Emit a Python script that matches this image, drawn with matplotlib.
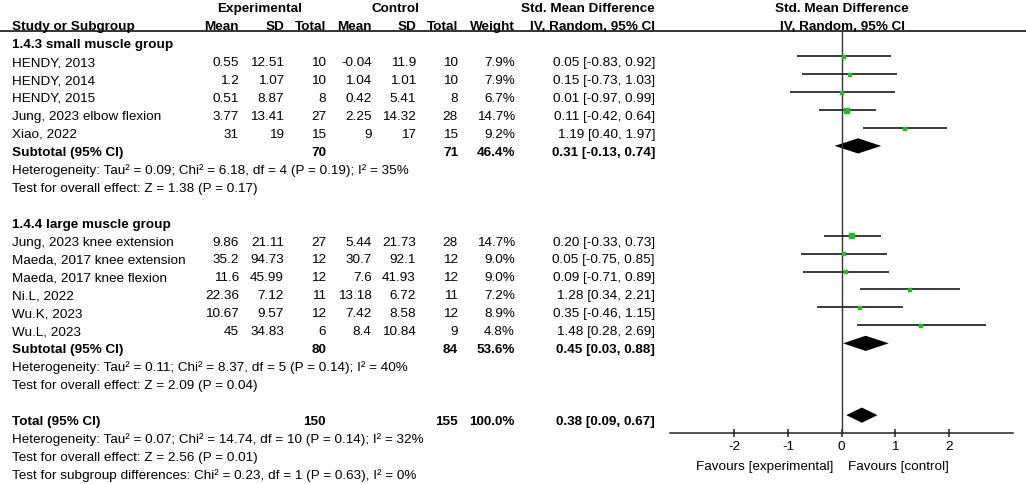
import matplotlib
matplotlib.use("Agg")
import matplotlib.pyplot as plt
import numpy as np

plt.rcParams['font.family'] = ['Liberation Sans', 'DejaVu Sans']

# ---------------- data ----------------
g1_label = "1.4.3 small muscle group"
g1_names = ["HENDY, 2013", "HENDY, 2014", "HENDY, 2015", "Jung, 2023 elbow flexion", "Xiao, 2022"]
g1_exp_mean = ["0.55", "1.2", "0.51", "3.77", "31"]
g1_exp_sd = ["12.51", "1.07", "8.87", "13.41", "19"]
g1_exp_n = [10, 10, 8, 27, 15]
g1_ctl_mean = ["-0.04", "1.04", "0.42", "2.25", "9"]
g1_ctl_sd = ["11.9", "1.01", "5.41", "14.32", "17"]
g1_ctl_n = [10, 10, 8, 28, 15]
g1_weight = [7.9, 7.9, 6.7, 14.7, 9.2]
g1_smd = [0.05, 0.15, 0.01, 0.11, 1.19]
g1_lo = [-0.83, -0.73, -0.97, -0.42, 0.40]
g1_hi = [0.92, 1.03, 0.99, 0.64, 1.97]
g1_sub = dict(exp_n=70, ctl_n=71, weight=46.4, smd=0.31, lo=-0.13, hi=0.74)
g1_het = "Heterogeneity: Tau² = 0.09; Chi² = 6.18, df = 4 (P = 0.19); I² = 35%"
g1_test = "Test for overall effect: Z = 1.38 (P = 0.17)"

g2_label = "1.4.4 large muscle group"
g2_names = ["Jung, 2023 knee extension", "Maeda, 2017 knee extension", "Maeda, 2017 knee flexion",
            "Ni.L, 2022", "Wu.K, 2023", "Wu.L, 2023"]
g2_exp_mean = ["9.86", "35.2", "11.6", "22.36", "10.67", "45"]
g2_exp_sd = ["21.11", "94.73", "45.99", "7.12", "9.57", "34.83"]
g2_exp_n = [27, 12, 12, 11, 12, 6]
g2_ctl_mean = ["5.44", "30.7", "7.6", "13.18", "7.42", "8.4"]
g2_ctl_sd = ["21.73", "92.1", "41.93", "6.72", "8.58", "10.84"]
g2_ctl_n = [28, 12, 12, 11, 12, 9]
g2_weight = [14.7, 9.0, 9.0, 7.2, 8.9, 4.8]
g2_smd = [0.20, 0.05, 0.09, 1.28, 0.35, 1.48]
g2_lo = [-0.33, -0.75, -0.71, 0.34, -0.46, 0.28]
g2_hi = [0.73, 0.85, 0.89, 2.21, 1.15, 2.69]
g2_sub = dict(exp_n=80, ctl_n=84, weight=53.6, smd=0.45, lo=0.03, hi=0.88)
g2_het = "Heterogeneity: Tau² = 0.11; Chi² = 8.37, df = 5 (P = 0.14); I² = 40%"
g2_test = "Test for overall effect: Z = 2.09 (P = 0.04)"

total = dict(exp_n=150, ctl_n=155, weight=100.0, smd=0.38, lo=0.09, hi=0.67)
total_het = "Heterogeneity: Tau² = 0.07; Chi² = 14.74, df = 10 (P = 0.14); I² = 32%"
total_test = "Test for overall effect: Z = 2.56 (P = 0.01)"
total_sub = "Test for subgroup differences: Chi² = 0.23, df = 1 (P = 0.63), I² = 0%"

xticks = [-2, -1, 0, 1, 2]
xticklabels = ["-2", "-1", "0", "1", "2"]
fav_left = "Favours [experimental]"
fav_right = "Favours [control]"

# ---------------- layout ----------------
W, H = 1026, 485
ROW0, DY = 43.5, 17.95
FS = 9.7
BASE = 4.6      # baseline offset from row centre (px)
MARK = -4.3     # forest mark offset from row centre (px)

def ry(k):
    return ROW0 + DY * k

COL = dict(name=12, em=239, esd=284, en=326, cm=371.7, csd=416, cn=458, w=515, ci=655)

fig = plt.figure(figsize=(W / 100, H / 100), dpi=100)
ax = fig.add_axes([0, 0, 1, 1])
ax.set_xlim(0, W)
ax.set_ylim(H, 0)
ax.axis('off')

FX0, FX1 = 670, 1013
axf = fig.add_axes([FX0 / W, 0, (FX1 - FX0) / W, 1])
axf.set_xlim(-3.2, 3.2)
axf.set_ylim(H, 0)
axf.patch.set_alpha(0)
for s in ['left', 'right', 'top']:
    axf.spines[s].set_visible(False)
AXIS_Y = 434
axf.spines['bottom'].set_position(('data', AXIS_Y))
axf.spines['bottom'].set_linewidth(1.1)
axf.spines['bottom'].set_color('#222222')
axf.set_yticks([])
axf.set_xticks(xticks)
axf.set_xticklabels(xticklabels)
axf.tick_params(axis='x', direction='inout', length=6, width=1.1, labelsize=FS, pad=2,
                color='#222222')

def txt(x, k, s, ha='right', bold=False):
    ax.text(x, ry(k) + BASE, s, ha=ha, va='baseline', fontsize=FS,
            fontweight='bold' if bold else 'normal', color='black')

# headers
hy1, hy2 = -2.0, -1.03
ax.text(260, ry(hy1) + BASE, "Experimental", ha='center', va='baseline', fontsize=FS, fontweight='bold')
ax.text(395, ry(hy1) + BASE, "Control", ha='center', va='baseline', fontsize=FS, fontweight='bold')
ax.text(COL['ci'], ry(hy1) + BASE, "Std. Mean Difference", ha='right', va='baseline', fontsize=FS, fontweight='bold')
ax.text(841.7, ry(hy1) + BASE, "Std. Mean Difference", ha='center', va='baseline', fontsize=FS, fontweight='bold')
ax.text(COL['name'], ry(hy2) + BASE, "Study or Subgroup", ha='left', va='baseline', fontsize=FS, fontweight='bold')
for key, lab in [('em', 'Mean'), ('esd', 'SD'), ('en', 'Total'), ('cm', 'Mean'),
                 ('csd', 'SD'), ('cn', 'Total'), ('w', 'Weight'), ('ci', 'IV, Random, 95% CI')]:
    ax.text(COL[key], ry(hy2) + BASE, lab, ha='right', va='baseline', fontsize=FS, fontweight='bold')
ax.text(843, ry(hy2) + BASE, "IV, Random, 95% CI", ha='center', va='baseline', fontsize=FS, fontweight='bold')
HLINE_Y = 31.7
ax.plot([0, W], [HLINE_Y, HLINE_Y], color='#333333', lw=1.4, solid_capstyle='butt')

# zero line
axf.plot([0, 0], [HLINE_Y, AXIS_Y], color='#333333', lw=1.0)

def ci_str(e, l, h):
    return f"{e:.2f} [{l:.2f}, {h:.2f}]"

def draw_diamond(k, d):
    y = ry(k) + MARK
    h = 7.6
    axf.fill([d['lo'], d['smd'], d['hi'], d['smd']], [y, y - h, y, y + h],
             color='black', lw=0)

def draw_group(k0, label, names, em, esd, en, cm, csd, cn, w, smd, lo, hi, sub, het, test):
    txt(COL['name'], k0, label, ha='left', bold=True)
    for i in range(len(names)):
        k = k0 + 1 + i
        txt(COL['name'], k, names[i], ha='left')
        txt(COL['em'], k, em[i])
        txt(COL['esd'], k, esd[i])
        txt(COL['en'], k, str(en[i]))
        txt(COL['cm'], k, cm[i])
        txt(COL['csd'], k, csd[i])
        txt(COL['cn'], k, str(cn[i]))
        txt(COL['w'], k, f"{w[i]:.1f}%")
        txt(COL['ci'], k, ci_str(smd[i], lo[i], hi[i]))
        y = ry(k) + MARK
        axf.plot([lo[i], hi[i]], [y, y], color='#2a2a2a', lw=1.3, solid_capstyle='butt', zorder=2)
        side = 1.0 + 4.6 * np.sqrt(w[i] / 14.7)
        axf.plot([smd[i]], [y + 0.8], marker='s', ms=side * 0.72, color='#1ec01e',
                 mec='#1ec01e', mew=0.3, ls='none', zorder=3)
    ks = k0 + 1 + len(names)
    txt(COL['name'], ks, "Subtotal (95% CI)", ha='left', bold=True)
    txt(COL['en'], ks, str(sub['exp_n']), bold=True)
    txt(COL['cn'], ks, str(sub['ctl_n']), bold=True)
    txt(COL['w'], ks, f"{sub['weight']:.1f}%", bold=True)
    txt(COL['ci'], ks, ci_str(sub['smd'], sub['lo'], sub['hi']), bold=True)
    draw_diamond(ks, sub)
    txt(COL['name'], ks + 1, het, ha='left')
    txt(COL['name'], ks + 2, test, ha='left')

draw_group(0, g1_label, g1_names, g1_exp_mean, g1_exp_sd, g1_exp_n, g1_ctl_mean, g1_ctl_sd,
           g1_ctl_n, g1_weight, g1_smd, g1_lo, g1_hi, g1_sub, g1_het, g1_test)
draw_group(10, g2_label, g2_names, g2_exp_mean, g2_exp_sd, g2_exp_n, g2_ctl_mean, g2_ctl_sd,
           g2_ctl_n, g2_weight, g2_smd, g2_lo, g2_hi, g2_sub, g2_het, g2_test)

kt = 21
txt(COL['name'], kt, "Total (95% CI)", ha='left', bold=True)
txt(COL['en'], kt, str(total['exp_n']), bold=True)
txt(COL['cn'], kt, str(total['ctl_n']), bold=True)
txt(COL['w'], kt, f"{total['weight']:.1f}%", bold=True)
txt(COL['ci'], kt, ci_str(total['smd'], total['lo'], total['hi']), bold=True)
draw_diamond(kt, total)
txt(COL['name'], kt + 1, total_het, ha='left')
txt(COL['name'], kt + 2, total_test, ha='left')
txt(COL['name'], kt + 3, total_sub, ha='left')

ax.text(833, 465 + BASE, fav_left, ha='right', va='baseline', fontsize=FS)
ax.text(848, 465 + BASE, fav_right, ha='left', va='baseline', fontsize=FS)

fig.savefig("out.png", dpi=100)
